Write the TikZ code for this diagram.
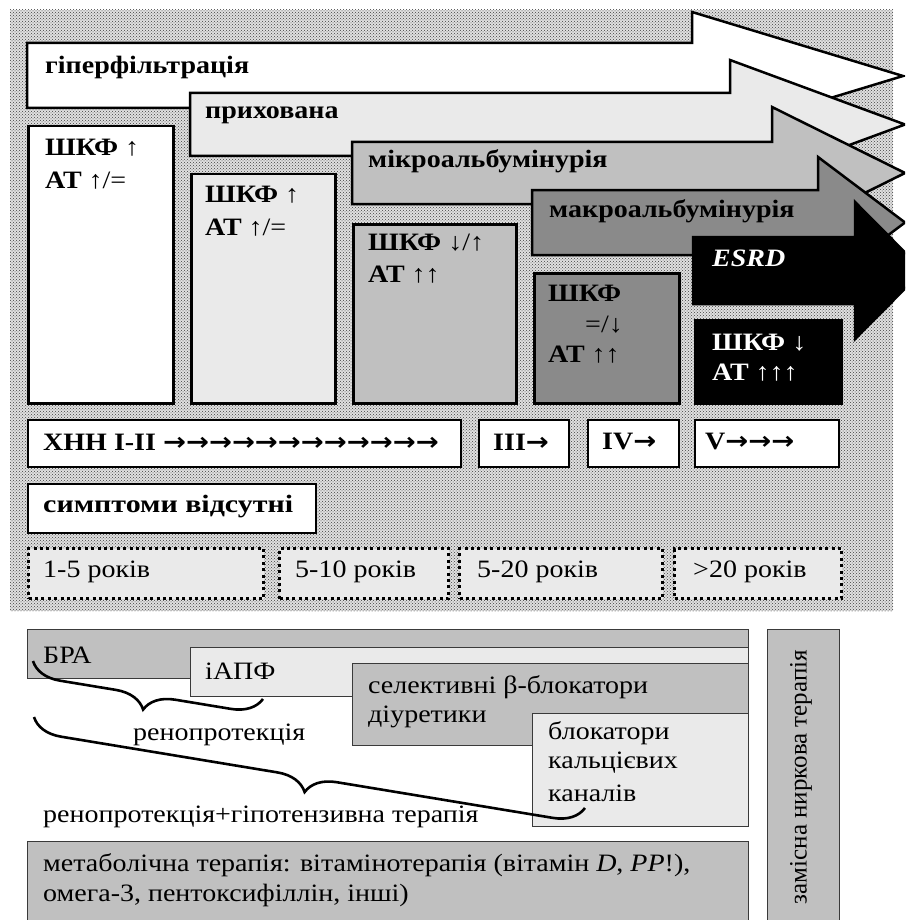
\documentclass[tikz,border=0pt]{standalone}
\usepackage{fontspec}
\setmainfont{Liberation Serif}
\newfontfamily\arrfont{DejaVu Sans}
\newcommand{\rar}{{\arrfont\bfseries\fontsize{24.5}{30}\selectfont →}}
\usetikzlibrary{patterns,decorations.pathreplacing}
\definecolor{lg}{HTML}{EAEAEA}
\definecolor{mg}{HTML}{C0C0C0}
\definecolor{dg}{HTML}{8A8A8A}
\definecolor{bd}{HTML}{3A3A3A}
\tikzset{
  arr/.style={draw=black, line width=2.5pt, line join=miter},
  stg/.style={draw=black, line width=2.5pt, anchor=north west, inner sep=0pt},
  dotbox/.style={draw=black, fill=lg, line width=3pt, dash pattern=on 3pt off 3.4pt, anchor=north west, inner sep=0pt},
  thbox/.style={draw=bd, line width=1.3pt, anchor=north west, inner sep=0pt},
  txt/.style={anchor=west, inner sep=0pt, xscale=1.12, font=\fontsize{25}{30}\selectfont},
  btxt/.style={anchor=west, inner sep=0pt, xscale=1.12, font=\bfseries\fontsize{25}{30}\selectfont},
  brc/.style={line width=2.6pt, decorate, decoration={brace, mirror, amplitude=30pt}},
}
\begin{document}
\begin{tikzpicture}[x=1pt,y=-1pt]
\useasboundingbox (0,0) rectangle (905,920);
\clip (0,0) rectangle (905,920);
\fill[white] (0,0) rectangle (905,920);
\fill[black!12] (10,10) rectangle (893,611);
\path[pattern=crosshatch dots, pattern color=black!75] (10,10) rectangle (893,611);

% stage arrows
\draw[arr, fill=white] (27,43) -- (692,43) -- (692,12) -- (903,76) -- (692,140) -- (692,108) -- (27,108) -- cycle;
\draw[arr, fill=lg] (190,93) -- (730,93) -- (730,60) -- (905,124.5) -- (730,189) -- (730,156) -- (190,156) -- cycle;
\draw[arr, fill=mg] (352,142) -- (772,142) -- (772,107) -- (905,173) -- (772,239) -- (772,204) -- (352,204) -- cycle;
\draw[arr, fill=dg] (532,190) -- (818,190) -- (818,157) -- (905,222.5) -- (818,288) -- (818,255) -- (532,255) -- cycle;
\draw[arr, fill=black] (693,237) -- (855,237) -- (855,202) -- (923,270.5) -- (855,339) -- (855,304) -- (693,304) -- cycle;
\node[btxt] (l1) at (45,67) {гіперфільтрація};
\node[btxt] (l2) at (205,115) {прихована};
\node[btxt] (l3) at (368,161) {мікроальбумінурія};
\node[btxt] (l4) at (549,211) {макроальбумінурія};
\node[btxt, text=white, font=\bfseries\itshape\fontsize{25}{30}\selectfont] (l5) at (712,258) {ESRD};

% stage boxes
\node[stg, fill=white, minimum width=145pt, minimum height=277pt] (bA) at (27,125) {};
\node[stg, fill=lg, minimum width=144pt, minimum height=229pt] (bB) at (190,173) {};
\node[stg, fill=mg, minimum width=163pt, minimum height=179pt] (bC) at (352,223) {};
\node[stg, fill=dg, minimum width=145pt, minimum height=130pt] (bD) at (533,272) {};
\node[stg, fill=black, minimum width=146pt, minimum height=83pt] (bE) at (694,319) {};
\node[btxt] (a1) at (45,148) {ШКФ \textmd{↑}};
\node[btxt] (a2) at (45,181) {АТ \textmd{↑/=}};
\node[btxt] (b1) at (205,195) {ШКФ \textmd{↑}};
\node[btxt] (b2) at (205,228) {АТ \textmd{↑/=}};
\node[btxt] (c1) at (368,243) {ШКФ \textmd{↓/↑}};
\node[btxt] (c2) at (368,275) {АТ \textmd{↑↑}};
\node[btxt] (d1) at (548,293) {ШКФ};
\node[btxt] (d2) at (585,325) {\textmd{=/↓}};
\node[btxt] (d3) at (548,355) {АТ \textmd{↑↑}};
\node[btxt, text=white] (e1) at (712,343) {ШКФ \textmd{↓}};
\node[btxt, text=white] (e2) at (712,373) {АТ \textmd{↑↑↑}};

% CKD row
\node[stg, fill=white, line width=1.6pt, minimum width=433pt, minimum height=47pt] (k1) at (27,419) {};
\node[stg, fill=white, line width=1.6pt, minimum width=90pt, minimum height=47pt] (k2) at (478,419) {};
\node[stg, fill=white, line width=1.6pt, minimum width=91pt, minimum height=47pt] (k3) at (587,419) {};
\node[stg, fill=white, line width=1.6pt, minimum width=144pt, minimum height=47pt] (k4) at (694,419) {};
\node[btxt] (k1t) at (43,442) {ХНН I-II \rar\rar\rar\rar\rar\rar\rar\rar\rar\rar\rar\rar};
\node[btxt] (k2t) at (493,442) {III\rar};
\node[btxt] (k3t) at (602,442) {IV\rar};
\node[btxt] (k4t) at (705,442) {V\rar\rar\rar};

\node[stg, fill=white, line width=2.2pt, minimum width=288pt, minimum height=49pt] (sym) at (27,483) {};
\node[btxt, xscale=1.07] (symt) at (43,507) {симптоми відсутні};

% durations
\node[dotbox, minimum width=235pt, minimum height=50pt] (y1) at (27,547) {};
\node[dotbox, minimum width=169pt, minimum height=50pt] (y2) at (278,547) {};
\node[dotbox, minimum width=203pt, minimum height=50pt] (y3) at (458,547) {};
\node[dotbox, minimum width=167pt, minimum height=50pt] (y4) at (673,547) {};
\node[txt] (y1t) at (43,572) {1-5 років};
\node[txt] (y2t) at (295,572) {5-10 років};
\node[txt] (y3t) at (477,572) {5-20 років};
\node[txt] (y4t) at (693,572) {>20 років};

% therapy
\node[thbox, fill=mg, minimum width=721pt, minimum height=49pt] (bra) at (27,629) {};
\node[thbox, fill=lg, minimum width=558pt, minimum height=49pt] (iapf) at (190,647) {};
\node[thbox, fill=mg, minimum width=396pt, minimum height=82pt] (sel) at (352,663) {};
\node[thbox, fill=lg, minimum width=216pt, minimum height=113pt] (blk) at (532,713) {};
\node[thbox, fill=mg, minimum width=721pt, minimum height=90pt] (met) at (27,841) {};
\node[thbox, fill=mg, minimum width=72pt, minimum height=300pt] (zam) at (767,629) {};
\node[txt] (brat) at (43,655) {БРА};
\node[txt] (iapft) at (205,671) {іАПФ};
\node[txt] (sel1) at (368,687) {селективні β-блокатори};
\node[txt] (sel2) at (368,717) {діуретики};
\node[txt] (blk1) at (548,733) {блокатори};
\node[txt] (blk2) at (548,763) {кальцієвих};
\node[txt] (blk3) at (548,793) {каналів};
\node[txt] (met1) at (43,865) {метаболічна терапія: вітамінотерапія (вітамін \textit{D}, \textit{PP}!),};
\node[txt] (met2) at (43,895) {омега-3, пентоксифіллін, інші)};
\node[inner sep=0pt, rotate=90, font=\fontsize{25}{30}\selectfont] (zamt) at (801,777) {замісна ниркова терапія};

% braces
\coordinate (r1a) at (33,661);
\coordinate (r1b) at (263,699);
\coordinate (r2a) at (34,717);
\coordinate (r2b) at (585,808);
\draw[brc] (r1a) -- (r1b);
\draw[brc] (r2a) -- (r2b);
\node[txt] (rp) at (133,735) {ренопротекція};
\node[txt] (rpg) at (43,817) {ренопротекція+гіпотензивна терапія};
\end{tikzpicture}
\end{document}
